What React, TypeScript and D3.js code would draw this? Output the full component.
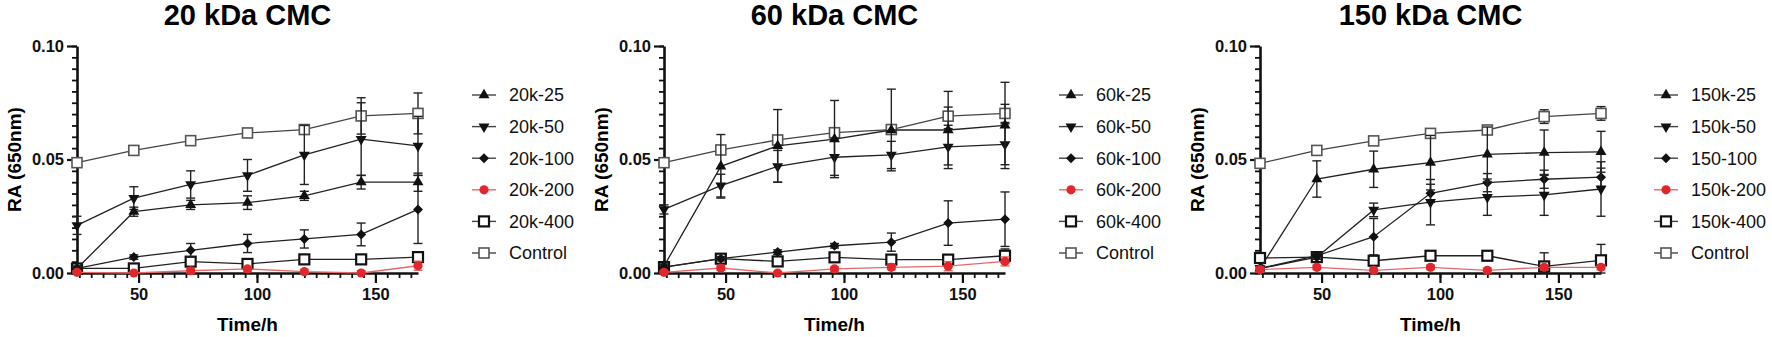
import React, { useRef, useEffect } from 'react';
import * as d3 from 'd3';

const hours = [24, 48, 72, 96, 120, 144, 168];
const yTicks = [0, 0.05, 0.1];
const xTicks = [50, 100, 150];
const panelTitles = ['20 kDa CMC', '60 kDa CMC', '150 kDa CMC'];

const labels20 = ['20k-25', '20k-50', '20k-100', '20k-200', '20k-400', 'Control'];
const labels60 = ['60k-25', '60k-50', '60k-100', '60k-200', '60k-400', 'Control'];
const labels150 = ['150k-25', '150k-50', '150-100', '150k-200', '150k-400', 'Control'];

// 20 kDa
const m20_25 = [0.002, 0.027, 0.030, 0.031, 0.034, 0.040, 0.040];
const e20_25 = [0.001, 0.002, 0.002, 0.003, 0.002, 0.003, 0.004];
const m20_50 = [0.021, 0.033, 0.039, 0.043, 0.052, 0.059, 0.056];
const e20_50 = [0.004, 0.005, 0.006, 0.007, 0.013, 0.016, 0.013];
const m20_100 = [0.002, 0.007, 0.010, 0.013, 0.015, 0.017, 0.028];
const e20_100 = [0.001, 0.001, 0.003, 0.004, 0.004, 0.005, 0.015];
const m20_200 = [0.0003, 0.0, 0.001, 0.0018, 0.0006, 0.0, 0.0032];
const e20_200 = [0.0005, 0.0005, 0.001, 0.001, 0.001, 0.001, 0.002];
const m20_400 = [0.002, 0.002, 0.005, 0.004, 0.006, 0.006, 0.007];
const e20_400 = [0.001, 0.001, 0.001, 0.001, 0.001, 0.001, 0.002];
const m20_ctrl = [0.0486, 0.054, 0.0583, 0.0617, 0.0632, 0.0692, 0.0703];
const e20_ctrl = [0.001, 0.001, 0.001, 0.001, 0.002, 0.008, 0.009];

// 60 kDa
const m60_25 = [0.003, 0.047, 0.056, 0.059, 0.063, 0.063, 0.065];
const e60_25 = [0.001, 0.014, 0.016, 0.017, 0.018, 0.017, 0.019];
const m60_50 = [0.028, 0.0385, 0.047, 0.051, 0.052, 0.0556, 0.0567];
const e60_50 = [0.002, 0.005, 0.007, 0.008, 0.006, 0.008, 0.009];
const m60_100 = [0.0026, 0.0063, 0.0092, 0.012, 0.0136, 0.022, 0.0237];
const e60_100 = [0.001, 0.001, 0.001, 0.001, 0.004, 0.0098, 0.012];
const m60_200 = [0.0003, 0.0022, 0.0, 0.0018, 0.0025, 0.003, 0.0051];
const e60_200 = [0.0005, 0.001, 0.0005, 0.001, 0.001, 0.002, 0.002];
const m60_400 = [0.0026, 0.0063, 0.0051, 0.0069, 0.0059, 0.0059, 0.0076];
const e60_400 = [0.001, 0.001, 0.001, 0.001, 0.002, 0.002, 0.003];
const m60_ctrl = [0.0486, 0.0542, 0.0586, 0.0618, 0.0632, 0.0691, 0.0703];
const e60_ctrl = [0.001, 0.001, 0.001, 0.001, 0.001, 0.004, 0.004];

// 150 kDa
const m150_25 = [0.002, 0.0414, 0.0457, 0.0486, 0.0523, 0.053, 0.0534];
const e150_25 = [0.001, 0.008, 0.008, 0.012, 0.012, 0.010, 0.009];
const m150_50 = [0.002, 0.007, 0.0278, 0.0312, 0.0334, 0.0344, 0.037];
const e150_50 = [0.001, 0.001, 0.003, 0.010, 0.008, 0.009, 0.012];
const m150_100 = [0.002, 0.0076, 0.016, 0.0351, 0.0398, 0.0413, 0.0422];
const e150_100 = [0.001, 0.001, 0.008, 0.004, 0.004, 0.004, 0.004];
const m150_200 = [0.0015, 0.0025, 0.0012, 0.0025, 0.0012, 0.0025, 0.0025];
const e150_200 = [0.001, 0.001, 0.001, 0.001, 0.001, 0.001, 0.001];
const m150_400 = [0.0066, 0.007, 0.0054, 0.0076, 0.0076, 0.0029, 0.0056];
const e150_400 = [0.001, 0.001, 0.001, 0.001, 0.001, 0.006, 0.007];
const m150_ctrl = [0.0483, 0.054, 0.0582, 0.0615, 0.063, 0.0689, 0.0703];
const e150_ctrl = [0.001, 0.001, 0.001, 0.001, 0.001, 0.003, 0.003];

const font = "'Liberation Sans', Arial, Helvetica, sans-serif";
const red = '#e3262b';
const kinds = ['up', 'down', 'diamond', 'circle', 'square', 'ctrl'];

const panels = [
  { title: panelTitles[0], labels: labels20, means: [m20_25, m20_50, m20_100, m20_200, m20_400, m20_ctrl], errs: [e20_25, e20_50, e20_100, e20_200, e20_400, e20_ctrl], left: 77, legendX: 472 },
  { title: panelTitles[1], labels: labels60, means: [m60_25, m60_50, m60_100, m60_200, m60_400, m60_ctrl], errs: [e60_25, e60_50, e60_100, e60_200, e60_400, e60_ctrl], left: 664, legendX: 1059 },
  { title: panelTitles[2], labels: labels150, means: [m150_25, m150_50, m150_100, m150_200, m150_400, m150_ctrl], errs: [e150_25, e150_50, e150_100, e150_200, e150_400, e150_ctrl], left: 1260, legendX: 1654 },
];

function drawMarker(g, kind, x, y) {
  if (kind === 'up' || kind === 'down') {
    g.append('path')
      .attr('d', d3.symbol(d3.symbolTriangle, 52)())
      .attr('transform', `translate(${x},${y})${kind === 'down' ? ' rotate(180)' : ''}`)
      .attr('fill', '#111');
  } else if (kind === 'diamond') {
    const r = 5;
    g.append('path')
      .attr('d', `M${x},${y - r}L${x + r},${y}L${x},${y + r}L${x - r},${y}Z`)
      .attr('fill', '#111');
  } else if (kind === 'circle') {
    g.append('circle').attr('cx', x).attr('cy', y).attr('r', 4.6).attr('fill', red);
  } else if (kind === 'square') {
    g.append('rect').attr('x', x - 5).attr('y', y - 5).attr('width', 10).attr('height', 10)
      .attr('fill', 'white').attr('stroke', '#111').attr('stroke-width', 2.2);
  } else {
    g.append('rect').attr('x', x - 5).attr('y', y - 5).attr('width', 10).attr('height', 10)
      .attr('fill', 'white').attr('stroke', '#555').attr('stroke-width', 1.6);
  }
}

const App = () => {
  const svgRef = useRef(null);

  useEffect(() => {
    const svg = d3.select(svgRef.current);
    svg.selectAll('*').remove();

    const top = 46;
    const bottom = 273;
    const plotW = 341;
    const y = d3.scaleLinear().domain([0, 0.1]).range([bottom, top]);

    panels.forEach((p) => {
      const x = d3.scaleLinear().domain([24, 168]).range([p.left, p.left + plotW]);
      const g = svg.append('g');

      // title
      g.append('text')
        .attr('x', p.left + plotW / 2).attr('y', 25)
        .attr('text-anchor', 'middle')
        .style('font-family', font).style('font-weight', 'bold').style('font-size', '29px')
        .text(p.title);

      // minor ticks
      const minorY = d3.range(0, 0.1001, 0.005);
      g.append('g').attr('transform', `translate(${p.left},0)`)
        .call(d3.axisLeft(y).tickValues(minorY).tickSize(5).tickFormat(() => '').tickSizeOuter(0))
        .call(a => a.select('.domain').remove())
        .call(a => a.selectAll('line').attr('stroke', '#111').attr('stroke-width', 1.8));
      const minorX = d3.range(25, 168, 5);
      g.append('g').attr('transform', `translate(0,${bottom})`)
        .call(d3.axisBottom(x).tickValues(minorX).tickSize(5).tickFormat(() => '').tickSizeOuter(0))
        .call(a => a.select('.domain').remove())
        .call(a => a.selectAll('line').attr('stroke', '#111').attr('stroke-width', 1.8));

      // major axes
      g.append('g').attr('transform', `translate(${p.left},0)`)
        .call(d3.axisLeft(y).tickValues(yTicks).tickSize(10).tickSizeOuter(0).tickPadding(3).tickFormat(d3.format('.2f')))
        .call(a => a.select('.domain').attr('stroke', '#111').attr('stroke-width', 2.6))
        .call(a => a.selectAll('line').attr('stroke', '#111').attr('stroke-width', 2.2))
        .call(a => a.selectAll('text').style('font-family', font).style('font-weight', 'bold').style('font-size', '16.5px').attr('fill', '#111'));
      g.append('g').attr('transform', `translate(0,${bottom})`)
        .call(d3.axisBottom(x).tickValues(xTicks).tickSize(10).tickSizeOuter(0).tickPadding(5))
        .call(a => a.select('.domain').attr('stroke', '#111').attr('stroke-width', 2.6))
        .call(a => a.selectAll('line').attr('stroke', '#111').attr('stroke-width', 2.2))
        .call(a => a.selectAll('text').style('font-family', font).style('font-weight', 'bold').style('font-size', '16.5px').attr('fill', '#111'));

      // axis titles
      g.append('text')
        .attr('transform', `translate(${p.left - 63},${(top + bottom) / 2}) rotate(-90)`)
        .attr('text-anchor', 'middle').attr('dy', '0.35em')
        .style('font-family', font).style('font-weight', 'bold').style('font-size', '19px')
        .text('RA (650nm)');
      g.append('text')
        .attr('x', p.left + plotW / 2).attr('y', 331)
        .attr('text-anchor', 'middle')
        .style('font-family', font).style('font-weight', 'bold').style('font-size', '19px')
        .text('Time/h');

      // series, control first, red last
      const order = [5, 4, 2, 1, 0, 3];
      const line = d3.line().x((d) => x(d[0])).y((d) => y(d[1]));
      order.forEach((si) => {
        const pts = hours.map((h, i) => [h, p.means[si][i], p.errs[si][i]]);
        const isRed = si === 3;
        g.append('path')
          .attr('d', line(pts))
          .attr('fill', 'none')
          .attr('stroke', isRed ? '#e46a6a' : si === 5 ? '#444' : '#222')
          .attr('stroke-width', 1.3);
        pts.forEach(([h, v, e]) => {
          const cx = x(h);
          const yt = y(v + e);
          const yb = y(Math.max(0, v - e));
          const col = isRed ? '#e46a6a' : '#222';
          g.append('line').attr('x1', cx).attr('x2', cx).attr('y1', yt).attr('y2', yb).attr('stroke', col).attr('stroke-width', 1.4);
          [yt, yb].forEach((yy) => {
            g.append('line').attr('x1', cx - 4.5).attr('x2', cx + 4.5).attr('y1', yy).attr('y2', yy).attr('stroke', col).attr('stroke-width', 1.4);
          });
        });
        pts.forEach(([h, v]) => drawMarker(g, kinds[si], x(h), y(v)));
      });

      // legend
      p.labels.forEach((lab, i) => {
        const ly = 95 + i * 31.6;
        g.append('line')
          .attr('x1', p.legendX).attr('x2', p.legendX + 24).attr('y1', ly).attr('y2', ly)
          .attr('stroke', i === 3 ? '#e46a6a' : '#444').attr('stroke-width', 1.4);
        drawMarker(g, kinds[i], p.legendX + 12, ly);
        g.append('text')
          .attr('x', p.legendX + 37).attr('y', ly).attr('dy', '0.35em')
          .style('font-family', font).style('font-size', '18px').attr('fill', '#111')
          .text(lab);
      });
    });
  }, []);

  return (
    <svg ref={svgRef} width={1772} height={337}
      style={{ position: 'absolute', left: 0, top: 0, background: 'white' }} />
  );
};

export default App;
